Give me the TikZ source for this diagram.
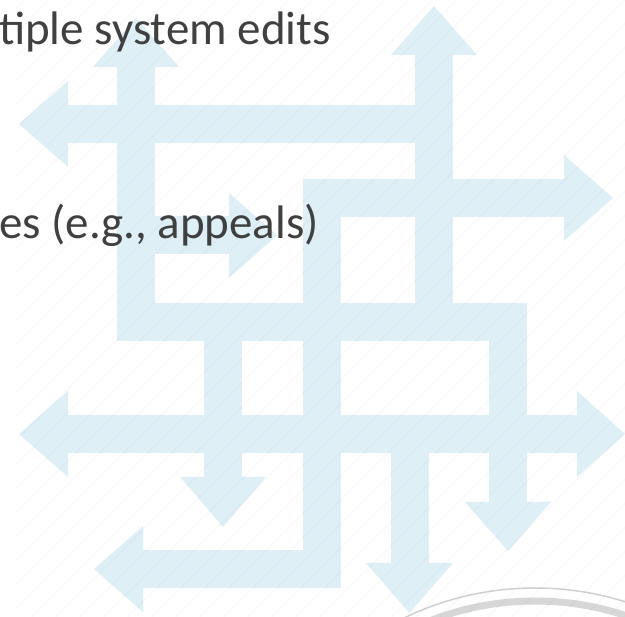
\documentclass[tikz,border=0pt]{standalone}
\usepackage{fontspec}
\setmainfont{Carlito}
\definecolor{arrowblue}{RGB}{222,239,246}
\definecolor{textgray}{RGB}{64,64,64}
\definecolor{sealgray}{RGB}{208,208,208}
\definecolor{hatch}{RGB}{10,30,120}
\begin{document}
\begin{tikzpicture}[x=1pt,y=-1pt,
  shaft/.style={draw=arrowblue,line width=38pt,line join=miter,line cap=butt},
  arrowhead/.style={fill=arrowblue,draw=none},
  label/.style={text=textgray,inner sep=0pt,outer sep=0pt,anchor=base west,
    font=\fontsize{47}{56}\selectfont},
  hatchline/.style={draw=hatch,draw opacity=0.025,line width=1.6pt}]
\useasboundingbox (0,0) rectangle (625,617);
\fill[white] (0,0) rectangle (625,617);
\clip (0,0) rectangle (625,617);

% arrow shafts
\draw[shaft] (68,124) -- (434,124);
\draw[shaft] (136,67) -- (136,322) -- (508,322) -- (508,502);
\draw[shaft] (434,55) -- (434,322);
\draw[shaft] (564,198) -- (322,198) -- (322,569) -- (143,569);
\draw[shaft] (136,235.5) -- (229,235.5);
\draw[shaft] (68,434) -- (577,434);
\draw[shaft] (223,322) -- (223,477);
\draw[shaft] (409.5,434) -- (409.5,563);

% arrow heads
\fill[arrowhead] (68,81) -- (19,124) -- (68,167) -- cycle;
\fill[arrowhead] (93,67) -- (136,18) -- (179,67) -- cycle;
\fill[arrowhead] (391,55) -- (434,6) -- (477,55) -- cycle;
\fill[arrowhead] (564,155) -- (613,198) -- (564,241) -- cycle;
\fill[arrowhead] (229,193) -- (277,235.5) -- (229,278) -- cycle;
\fill[arrowhead] (68,391) -- (19,434) -- (68,477) -- cycle;
\fill[arrowhead] (577,391) -- (625,434) -- (577,477) -- cycle;
\fill[arrowhead] (180,477) -- (223,527) -- (266,477) -- cycle;
\fill[arrowhead] (465,502) -- (508,551) -- (551,502) -- cycle;
\fill[arrowhead] (366,563) -- (409.5,613) -- (453,563) -- cycle;
\fill[arrowhead] (143,526) -- (94,569) -- (143,612) -- cycle;

% seal ring at the lower edge
\draw[sealgray,line width=1.5pt] (535,888) circle (300);
\draw[sealgray!85,line width=7pt] (535,888) circle (287);

% texts
\node[label] (edits) at (-1,45) {tiple system edits};
\node[label] (appeals) at (-1,239) {es (e.g., appeals)};

% faint diagonal hatching over the page
\begin{scope}
\clip (16,0) rectangle (625,617);
\foreach \k in {-640,-616,...,640}
  \draw[hatchline] (\k,617) -- ({\k+617},0);
\end{scope}
\end{tikzpicture}
\end{document}
